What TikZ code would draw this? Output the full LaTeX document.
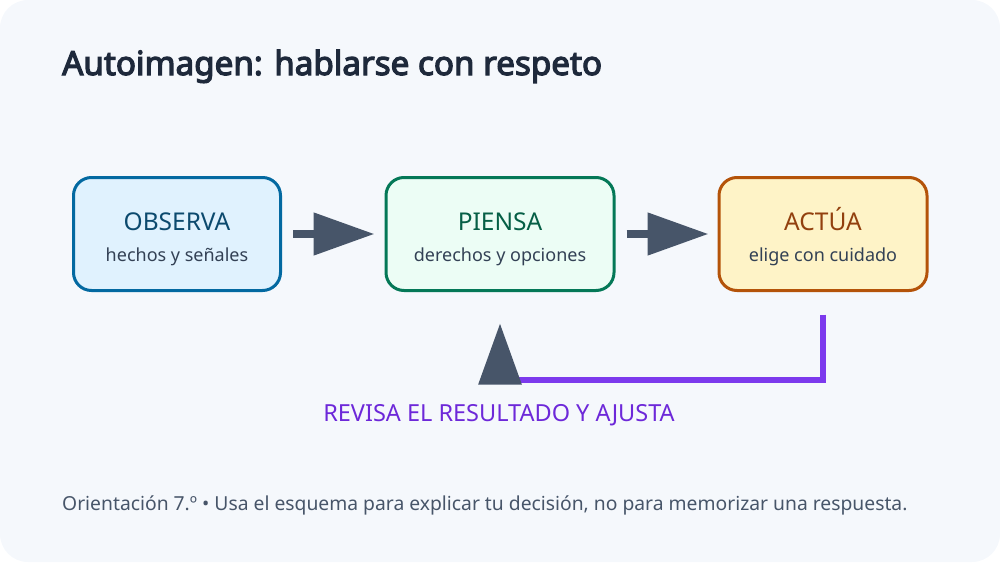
\documentclass[tikz,border=0pt]{standalone}
\usepackage{fontspec}
\setmainfont{Noto Sans}
\newfontfamily\titlefont{Noto Sans}[FakeBold=3.6]
\usetikzlibrary{arrows.meta}
\definecolor{bgc}{HTML}{F5F8FC}
\definecolor{slatea}{HTML}{475569}
\definecolor{slateb}{HTML}{334155}
\definecolor{slatec}{HTML}{1E293B}
\definecolor{bluebd}{HTML}{0369A1}
\definecolor{bluefl}{HTML}{E0F2FE}
\definecolor{bluetx}{HTML}{0C4A6E}
\definecolor{grnbd}{HTML}{047857}
\definecolor{grnfl}{HTML}{ECFDF5}
\definecolor{grntx}{HTML}{065F46}
\definecolor{orgbd}{HTML}{B45309}
\definecolor{orgfl}{HTML}{FEF3C7}
\definecolor{orgtx}{HTML}{92400E}
\definecolor{purln}{HTML}{7C3AED}
\definecolor{purtx}{HTML}{6D28D9}
\tikzset{
  stepbox/.style={draw, rounded corners=18pt, line width=3pt, minimum height=113pt, inner sep=0pt},
  boxtitle/.style={anchor=base, inner sep=0pt, font=\fontsize{24.5}{29}\selectfont},
  boxsub/.style={anchor=base, inner sep=0pt, text=slateb, font=\fontsize{18}{22}\selectfont},
  flow/.style={draw=slatea, line width=8pt, -{Triangle[length=61pt,width=41pt]}},
  fb/.style={draw=purln, line width=6pt, -{Triangle[length=61pt,width=42pt,color=slatea]}},
}
\begin{document}
\begin{tikzpicture}[x=1pt,y=-1pt]
\useasboundingbox (0,0) rectangle (1000,562);
\fill[bgc, rounded corners=28pt] (0,0) rectangle (1000,562);
\node[anchor=base west, inner sep=0pt, text=slatec, font=\titlefont\fontsize{33.2}{40}\selectfont] (title) at (62,75) {Autoimagen: hablarse con respeto};
% boxes
\node[stepbox, draw=bluebd, fill=bluefl, minimum width=207pt] (obs) at (177,234) {};
\node[stepbox, draw=grnbd, fill=grnfl, minimum width=228pt] (pie) at (500,234) {};
\node[stepbox, draw=orgbd, fill=orgfl, minimum width=208pt] (act) at (823,234) {};
\node[boxtitle, text=bluetx] (obst) at (177,230) {OBSERVA};
\node[boxsub] (obss) at (177,261) {hechos y señales};
\node[boxtitle, text=grntx] (piet) at (500,230) {PIENSA};
\node[boxsub] (pies) at (500,261) {derechos y opciones};
\node[boxtitle, text=orgtx] (actt) at (823,230) {ACTÚA};
\node[boxsub] (acts) at (823,261) {elige con cuidado};
% flow arrows
\draw[flow, shorten <=11pt, shorten >=10pt] (obs.east) -- (pie.west);
\draw[flow, shorten <=11pt, shorten >=9pt] (pie.east) -- (act.west);
% feedback
\coordinate (fb1) at (823,380);
\coordinate (fb2) at (500,380);
\draw[fb, shorten <=22.5pt, shorten >=31.5pt] (act.south) -- (fb1) -- (fb2) -- (pie.south);
\node[anchor=base, inner sep=0pt, text=purtx, font=\fontsize{23.5}{28}\selectfont] (fbl) at (499,421.5) {REVISA EL RESULTADO Y AJUSTA};
% footer
\node[anchor=base west, inner sep=0pt, text=slatea, font=\fontsize{19.3}{23}\selectfont] (foot) at (62,510.5) {Orientación 7.º • Usa el esquema para explicar tu decisión, no para memorizar una respuesta.};
\end{tikzpicture}
\end{document}
